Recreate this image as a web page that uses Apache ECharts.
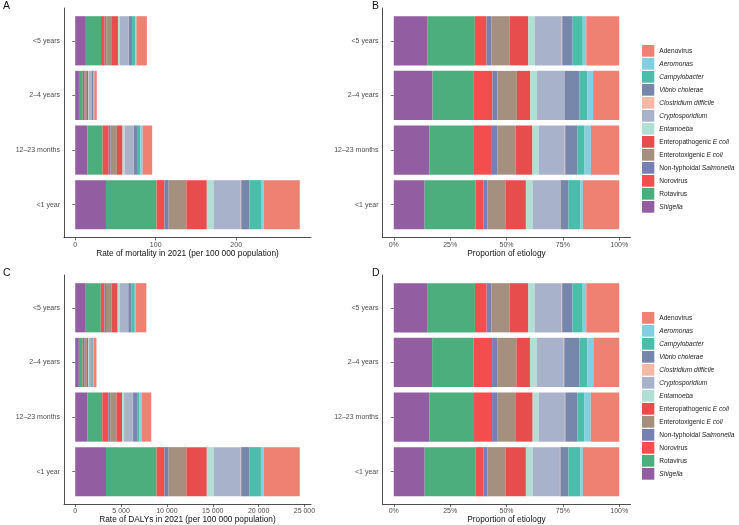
<!DOCTYPE html>
<html><head><meta charset="utf-8">
<script src="https://cdn.jsdelivr.net/npm/echarts@6/dist/echarts.min.js"></script>
<style>html,body{margin:0;padding:0;background:#fff}#c{width:739px;height:525px}</style>
</head><body><div id="c"></div>
<script>
// categories (bottom to top)
const ageGroups = ['<1 year', '12–23 months', '2–4 years', '<5 years'];
// pathogens in stacking order (left to right)
const pathogens = ['Shigella', 'Rotavirus', 'Norovirus', 'Non-typhoidal Salmonella', 'Enterotoxigenic E coli',
  'Enteropathogenic E coli', 'Entamoeba', 'Cryptosporidium', 'Clostridium difficile', 'Vibrio cholerae',
  'Campylobacter', 'Aeromonas', 'Adenovirus'];
const pathogenColors = ['#925DA1', '#4DAE7D', '#F34D4D', '#7680B3', '#A5907F', '#E74D4D', '#B2DFD4',
  '#A9B2CB', '#F7B9A5', '#7787AC', '#4DBDAB', '#82CFE2', '#EE8172'];
const legendLabels = ['{i|Shigella}', '{n|Rotavirus}', '{n|Norovirus}', '{n|Non-typhoidal }{i|Salmonella}',
  '{n|Enterotoxigenic }{i|E coli}', '{n|Enteropathogenic }{i|E coli}', '{i|Entamoeba}', '{i|Cryptosporidium}',
  '{i|Clostridium difficile}', '{i|Vibrio cholerae}', '{i|Campylobacter}', '{i|Aeromonas}', '{n|Adenovirus}'];

// Rate of mortality per 100 000 (values per pathogen, same order as pathogens)
const mortalityUnder1 = [38.2, 62.8, 9.8, 5.3, 22.0, 25.4, 8.4, 33.8, 0.6, 10.0, 14.5, 3.3, 44.9];
const mortality12to23 = [15.1, 18.9, 7.6, 2.4, 7.7, 7.1, 2.6, 11.1, 0.2, 5.1, 3.1, 2.7, 12.0];
const mortality2to4 = [4.6, 4.9, 2.2, 0.6, 2.3, 1.6, 0.8, 3.2, 0.05, 1.8, 0.9, 0.7, 3.1];
const mortalityUnder5 = [13.2, 18.8, 4.6, 1.9, 7.2, 7.4, 2.5, 10.7, 0.2, 4.1, 4.0, 1.4, 13.0];

// Rate of DALYs per 100 000
const dalyUnder1 = [3355, 5510, 857, 465, 1935, 2229, 735, 2963, 49, 882, 1273, 294, 3943];
const daly12to23 = [1310, 1641, 663, 207, 671, 613, 224, 962, 17, 439, 265, 232, 1045];
const daly2to4 = [394, 424, 192, 53, 197, 139, 72, 275, 5, 157, 79, 63, 266];
const dalyUnder5 = [1147, 1643, 403, 163, 628, 643, 217, 930, 16, 357, 349, 124, 1132];

const mortalityTicks = [0, 100, 200];
const dalyTicks = [0, 5000, 10000, 15000, 20000, 25000];
const proportionTicks = [0, 0.25, 0.5, 0.75, 1];

const mortalityRows = [mortalityUnder1, mortality12to23, mortality2to4, mortalityUnder5];
const dalyRows = [dalyUnder1, daly12to23, daly2to4, dalyUnder5];
const sum = a => a.reduce((s, v) => s + v, 0);
const toProp = rows => rows.map(r => { const t = sum(r); return r.map(v => v / t); });

const FONT = 'Liberation Sans, Arial, sans-serif';
const fmtSpace = v => String(v).replace(/\B(?=(\d{3})+(?!\d))/g, ' ');
const fmtPct = v => Math.round(v * 100) + '%';

const panels = [
  { letter: 'A', left: 64, top: 8, width: 247, rows: mortalityRows, ticks: mortalityTicks, fmt: fmtSpace, name: 'Rate of mortality in 2021 (per 100 000 population)' },
  { letter: 'B', left: 382.5, top: 8, width: 248, rows: toProp(mortalityRows), ticks: proportionTicks, fmt: fmtPct, name: 'Proportion of etiology' },
  { letter: 'C', left: 64, top: 275, width: 247, rows: dalyRows, ticks: dalyTicks, fmt: fmtSpace, name: 'Rate of DALYs in 2021 (per 100 000 population)' },
  { letter: 'D', left: 382.5, top: 275, width: 248, rows: toProp(dalyRows), ticks: proportionTicks, fmt: fmtPct, name: 'Proportion of etiology' }
];
const H = 229.5;
const band = H / 4.2;

const grid = [], xAxis = [], yAxis = [], series = [], title = [];
const labelX = [3, 372, 3, 372];
const labelY = [1, 1, 268, 268];
panels.forEach((p, pi) => {
  const maxT = Math.max(...p.rows.map(sum));
  const mn = -0.05 * maxT, mx = 1.05 * maxT;
  const gF = pi * 2, gB = pi * 2 + 1;
  grid.push({ left: p.left, top: p.top, width: p.width, height: H });
  grid.push({ left: p.left, top: p.top + 0.1 * band, width: p.width, height: 4 * band });
  xAxis.push({
    gridIndex: gF, type: 'value', min: mn, max: mx, splitLine: { show: false },
    axisLine: { show: true, onZero: false, lineStyle: { color: '#222', width: 0.8 } },
    axisTick: { show: true, length: 3, customValues: p.ticks, lineStyle: { color: '#333', width: 0.7 } },
    axisLabel: { show: true, customValues: p.ticks, formatter: p.fmt, fontSize: 7, color: '#4D4D4D', fontFamily: FONT, margin: 4 },
    name: p.name, nameLocation: 'middle', nameGap: 12,
    nameTextStyle: { fontSize: 8.3, color: '#111', fontFamily: FONT, verticalAlign: 'top' }
  });
  xAxis.push({ gridIndex: gB, type: 'value', min: mn, max: mx, show: false, splitLine: { show: false } });
  yAxis.push({
    gridIndex: gF, type: 'value', min: 0, max: 1, splitLine: { show: false },
    axisLine: { show: true, onZero: false, lineStyle: { color: '#222', width: 0.8 } },
    axisTick: { show: false }, axisLabel: { show: false }
  });
  yAxis.push({
    gridIndex: gB, type: 'category', data: ageGroups, boundaryGap: true,
    axisLine: { show: false },
    axisTick: { show: true, alignWithLabel: true, length: 3, lineStyle: { color: '#333', width: 0.7 } },
    axisLabel: { fontSize: 7, color: '#4D4D4D', fontFamily: FONT, margin: 4 }
  });
  pathogens.forEach((name, k) => {
    series.push({
      type: 'bar', name, stack: 'p' + pi, xAxisIndex: gB, yAxisIndex: gB,
      barCategoryGap: '10%',
      data: p.rows.map(r => r[k]),
      itemStyle: { color: pathogenColors[k] },
      emphasis: { disabled: true }, silent: true
    });
  });
  title.push({ text: p.letter, left: labelX[pi], top: labelY[pi], padding: 0, textStyle: { fontSize: 10.5, fontWeight: 'normal', color: '#111', fontFamily: FONT } });
});

const legendData = pathogens.slice().reverse();
const legendCommon = {
  orient: 'vertical', left: 642, padding: 0, itemWidth: 12.3, itemHeight: 11.7, itemGap: 1.3, icon: 'rect',
  selectedMode: false, data: legendData, itemStyle: { borderWidth: 0 },
  formatter: n => legendLabels[pathogens.indexOf(n)],
  textStyle: {
    fontSize: 6.6, color: '#222', fontFamily: FONT, padding: 0,
    rich: { n: { fontSize: 6.6, color: '#222', fontFamily: FONT }, i: { fontSize: 6.6, color: '#222', fontFamily: FONT, fontStyle: 'italic' } }
  }
};
const legend = [Object.assign({}, legendCommon, { top: 45 }), Object.assign({}, legendCommon, { top: 312 })];

const chart = echarts.init(document.getElementById('c'), null, { renderer: 'canvas' });
chart.setOption({ animation: false, backgroundColor: '#fff', title, grid, xAxis, yAxis, series, legend });
</script></body></html>
